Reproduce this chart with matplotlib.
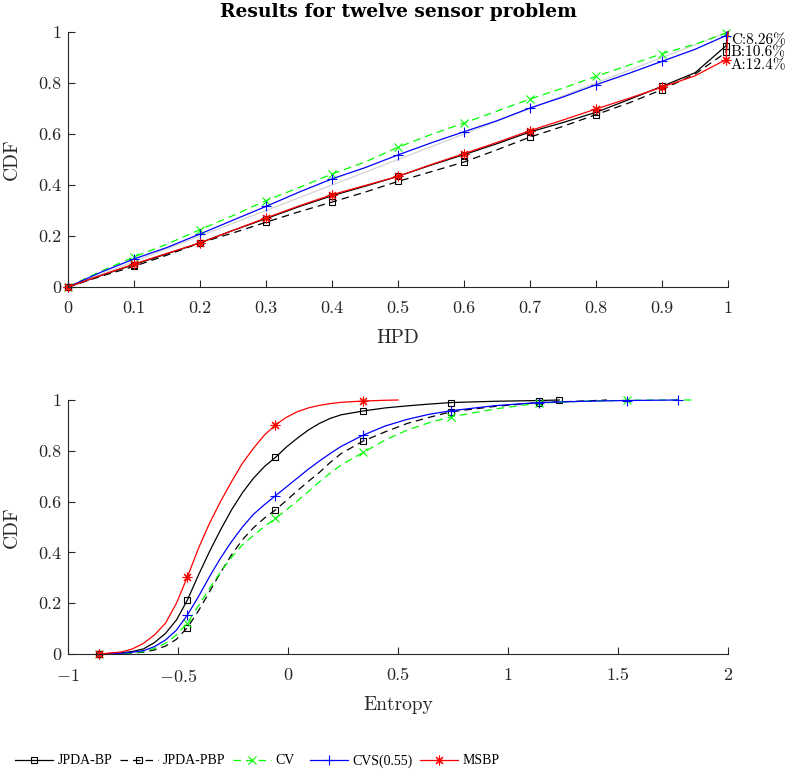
import matplotlib
matplotlib.use("Agg")
import matplotlib.pyplot as plt
from matplotlib.ticker import FixedLocator, FixedFormatter

plt.rcParams['font.family'] = ['cmr10', 'DejaVu Serif']
plt.rcParams['mathtext.fontset'] = 'cm'
plt.rcParams['axes.unicode_minus'] = False
plt.rcParams['axes.formatter.use_mathtext'] = True

# ---------------- data: top panel (HPD) ----------------
HPD_X = [0, 0.05, 0.1, 0.15, 0.2, 0.25, 0.3, 0.35, 0.4, 0.45, 0.5, 0.55,
         0.6, 0.65, 0.7, 0.75, 0.8, 0.85, 0.9, 0.95, 0.997, 1.0]
HPD_JPDA_BP = [0, 0.045, 0.088, 0.13, 0.173, 0.222, 0.268, 0.315, 0.358, 0.395, 0.434, 0.478,
               0.519, 0.562, 0.608, 0.645, 0.685, 0.735, 0.787, 0.84, 0.946, 1.0]
HPD_JPDA_PBP = [0, 0.042, 0.081, 0.125, 0.173, 0.212, 0.254, 0.295, 0.333, 0.372, 0.414, 0.452,
                0.49, 0.538, 0.588, 0.63, 0.676, 0.722, 0.774, 0.835, 0.92, 1.0]
HPD_CV = [0, 0.062, 0.118, 0.168, 0.225, 0.28, 0.339, 0.39, 0.443, 0.49, 0.548, 0.598,
          0.643, 0.69, 0.737, 0.78, 0.826, 0.87, 0.915, 0.952, 0.996, 1.0]
HPD_CVS = [0, 0.058, 0.11, 0.155, 0.208, 0.262, 0.316, 0.372, 0.424, 0.468, 0.518, 0.565,
           0.609, 0.652, 0.702, 0.745, 0.793, 0.838, 0.885, 0.932, 0.986, 1.0]
HPD_MSBP = [0, 0.046, 0.09, 0.132, 0.173, 0.222, 0.271, 0.318, 0.362, 0.398, 0.434, 0.48,
            0.523, 0.567, 0.613, 0.655, 0.698, 0.74, 0.784, 0.828, 0.892, 1.0]
HPD_MARKS = [0, 2, 4, 6, 8, 10, 12, 14, 16, 18, 20]
DIAG = [0, 1]
ANNOT = ["C:8.26%", "B:10.6%", "A:12.4%"]
ANNOT_Y = [0.967, 0.918, 0.867]

# ---------------- data: bottom panel (Entropy) ----------------
ENT_GRID = [-0.857, -0.757, -0.707, -0.657, -0.607, -0.557, -0.507, -0.457, -0.407, -0.357,
            -0.307, -0.257, -0.207, -0.157, -0.107, -0.057, -0.007, 0.043, 0.093, 0.143,
            0.193, 0.243, 0.343, 0.443, 0.543, 0.643, 0.743, 0.943, 1.143, 1.343,
            1.543, 1.743]
ENT_JPDA_BP = [0, 0.004, 0.01, 0.02, 0.045, 0.081, 0.134, 0.213, 0.311, 0.403,
               0.488, 0.567, 0.635, 0.692, 0.738, 0.774, 0.815, 0.85, 0.882, 0.908,
               0.928, 0.942, 0.957, 0.969, 0.977, 0.984, 0.99, 0.995, 0.998]
ENT_JPDA_BP_END = (1.233, 1.0)
ENT_JPDA_PBP = [0, 0.002, 0.004, 0.007, 0.016, 0.031, 0.058, 0.104, 0.17, 0.245,
                0.32, 0.39, 0.45, 0.497, 0.535, 0.567, 0.605, 0.643, 0.68, 0.715,
                0.755, 0.79, 0.839, 0.875, 0.908, 0.932, 0.954, 0.975, 0.99, 0.996]
ENT_JPDA_PBP_END = (1.45, 1.0)
ENT_CV = [0, 0.002, 0.005, 0.009, 0.022, 0.042, 0.075, 0.123, 0.19, 0.258,
          0.322, 0.38, 0.43, 0.467, 0.502, 0.534, 0.568, 0.603, 0.64, 0.678,
          0.713, 0.745, 0.794, 0.843, 0.882, 0.911, 0.934, 0.965, 0.988, 0.995,
          0.999, 1.0]
ENT_CV_END = (1.835, 1.0)
ENT_CVS = [0, 0.003, 0.007, 0.013, 0.029, 0.055, 0.094, 0.154, 0.226, 0.304,
           0.377, 0.442, 0.5, 0.55, 0.588, 0.623, 0.658, 0.693, 0.728, 0.76,
           0.79, 0.818, 0.862, 0.898, 0.924, 0.944, 0.958, 0.978, 0.99, 0.995,
           0.998]
ENT_CVS_END = (1.771, 1.0)
ENT_MSBP = [0, 0.008, 0.02, 0.042, 0.075, 0.121, 0.2, 0.304, 0.416, 0.514,
            0.6, 0.678, 0.751, 0.81, 0.862, 0.902, 0.932, 0.954, 0.969, 0.979,
            0.986, 0.991, 0.996, 0.999]
ENT_MSBP_END = (0.5, 1.0)
ENT_MARKS = [0, 7, 15, 22, 26, 28, 30]

LABELS = ["JPDA-BP", "JPDA-PBP", "CV", "CVS(0.55)", "MSBP"]

HPD_XTICKS = [0, 0.1, 0.2, 0.3, 0.4, 0.5, 0.6, 0.7, 0.8, 0.9, 1]
HPD_XTICKLABELS = ["0", "0.1", "0.2", "0.3", "0.4", "0.5", "0.6", "0.7", "0.8", "0.9", "1"]
ENT_XTICKS = [-1, -0.5, 0, 0.5, 1, 1.5, 2]
ENT_XTICKLABELS = [r"$-1$", r"$-0.5$", "0", "0.5", "1", "1.5", "2"]
YTICKS = [0, 0.2, 0.4, 0.6, 0.8, 1]
YTICKLABELS = ["0", "0.2", "0.4", "0.6", "0.8", "1"]

# ---------------- styles ----------------
STYLES = [
    dict(color='black', ls='-', marker='s', ms=5, mfc='none'),
    dict(color='black', ls=(0, (6, 4)), marker='s', ms=5, mfc='none'),
    dict(color='#00ff00', ls=(0, (6, 4)), marker='x', ms=5.5),
    dict(color='#0000ff', ls='-', marker='+', ms=7),
    dict(color='#ff0000', ls='-', marker=(8, 2, 0), ms=7),
]
GREY = '#262626'
W, H = 789, 771

fig = plt.figure(figsize=(W / 100, H / 100), dpi=100)
ax1 = fig.add_axes([68 / W, 1 - 287 / H, 660 / W, 255 / H])
ax2 = fig.add_axes([68 / W, 1 - 654 / H, 660 / W, 254 / H])

# top
ax1.plot(DIAG, DIAG, color='#d4d4d4', lw=0.9)
top_series = [HPD_JPDA_BP, HPD_JPDA_PBP, HPD_CV, HPD_CVS, HPD_MSBP]
handles = []
for ys, st, lab in zip(top_series, STYLES, LABELS):
    ln, = ax1.plot(HPD_X, ys, lw=0.9, mew=0.8, markevery=HPD_MARKS,
                   clip_on=False, label=lab, **st)
    handles.append(ln)
for t, y in zip(ANNOT, ANNOT_Y):
    ax1.text(1.004, y, t, fontsize=11, va='center', ha='left', color='black',
             clip_on=False)

# bottom
bot = [(ENT_JPDA_BP, ENT_JPDA_BP_END, True),
       (ENT_JPDA_PBP, ENT_JPDA_PBP_END, False),
       (ENT_CV, ENT_CV_END, False),
       (ENT_CVS, ENT_CVS_END, True),
       (ENT_MSBP, ENT_MSBP_END, False)]
for (ys, end, endmark), st in zip(bot, STYLES):
    xs = ENT_GRID[:len(ys)] + [end[0]]
    yy = ys + [end[1]]
    marks = [m for m in ENT_MARKS if m < len(ys)]
    if endmark:
        marks.append(len(yy) - 1)
    ax2.plot(xs, yy, lw=0.9, mew=0.8, markevery=marks, clip_on=False, **st)

for ax, xt, xtl, xl in [(ax1, HPD_XTICKS, HPD_XTICKLABELS, "HPD"),
                        (ax2, ENT_XTICKS, ENT_XTICKLABELS, "Entropy")]:
    ax.set_xlim(xt[0], xt[-1])
    ax.set_ylim(0, 1)
    ax.xaxis.set_major_locator(FixedLocator(xt))
    ax.xaxis.set_major_formatter(FixedFormatter(xtl))
    ax.yaxis.set_major_locator(FixedLocator(YTICKS))
    ax.yaxis.set_major_formatter(FixedFormatter(YTICKLABELS))
    for s in ['top', 'right']:
        ax.spines[s].set_visible(False)
    for s in ['left', 'bottom']:
        ax.spines[s].set_color(GREY)
        ax.spines[s].set_linewidth(0.8)
    ax.tick_params(axis='both', direction='in', length=5, width=0.8, colors=GREY,
                   labelsize=13)
    ax.tick_params(axis='x', pad=10)
    ax.tick_params(axis='y', pad=4.5)
    ax.set_xlabel(xl, fontsize=14, color=GREY)
    ax.xaxis.set_label_coords(0.5, -51 / 255)
    ax.xaxis.label.set_va('center')
    ax.set_ylabel("CDF", fontsize=14, color=GREY)
    ax.yaxis.set_label_coords(-56 / 660, 0.5)
    ax.yaxis.label.set_va('center')

ax1.set_title("Results for twelve sensor problem", fontsize=13.5,
              fontfamily='DejaVu Serif', fontweight='bold', pad=0,
              y=1 + 20 / 255, va='center')

# legend, one entry at a time along the bottom
LEG_X = [15, 120, 233, 310, 420]
for h, lab, xp in zip(handles, LABELS, LEG_X):
    fig.legend([h], [lab], loc='center left', bbox_to_anchor=(xp / W, 1 - 761 / H),
               frameon=False, borderpad=0, borderaxespad=0, handlelength=2.75,
               handletextpad=0.3, prop={'family': 'Liberation Serif', 'size': 10})

fig.savefig("out.png", dpi=100)
